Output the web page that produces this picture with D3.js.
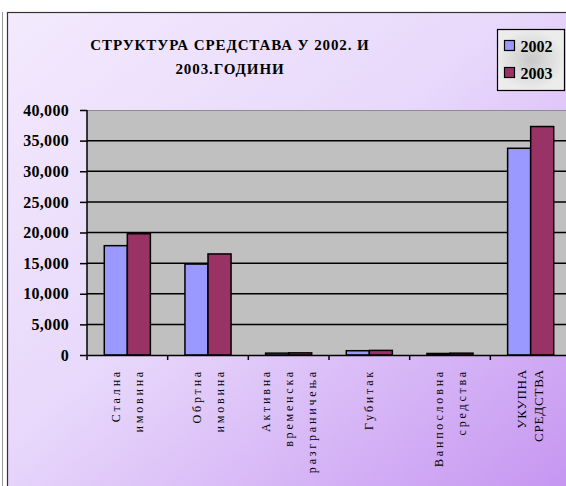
<!DOCTYPE html>
<html>
<head>
<meta charset="utf-8">
<script src="https://cdn.jsdelivr.net/npm/d3@7"></script>
<style>
	body { margin: 0; background: #fff; }
	svg { display: block; }
	.serif { font-family: "Liberation Serif", "DejaVu Serif", serif; }
</style>
</head>
<body>
<div id="chart"></div>
<script>
const categories = [
	['Стална', 'имовина'],
	['Обртна', 'имовина'],
	['Активна', 'временска', 'разграничења'],
	['Губитак'],
	['Ванпословна', 'средства'],
	['УКУПНА', 'СРЕДСТВА']
];
const years = ['2002', '2003'];
const values2002 = [17850, 14850, 300, 700, 250, 33750];
const values2003 = [19800, 16500, 350, 750, 300, 37300];
const yTicks = [0, 5000, 10000, 15000, 20000, 25000, 30000, 35000, 40000];
const titleLines = ['СТРУКТУРА  СРЕДСТАВА У 2002. И', '2003.ГОДИНИ'];

const width = 566, height = 486;
const colors = { '2002': '#9999ff', '2003': '#993366' };

const svg = d3.select('#chart').append('svg')
	.attr('width', width)
	.attr('height', height);

const defs = svg.append('defs');
const bg = defs.append('linearGradient')
	.attr('id', 'bg')
	.attr('x1', '0%').attr('y1', '0%')
	.attr('x2', '100%').attr('y2', '100%');
bg.append('stop').attr('offset', '0%').attr('stop-color', '#f3eafd');
bg.append('stop').attr('offset', '45%').attr('stop-color', '#e8d8fb');
bg.append('stop').attr('offset', '100%').attr('stop-color', '#c594f1');

const lg = defs.append('radialGradient').attr('id', 'lg');
lg.append('stop').attr('offset', '0%').attr('stop-color', '#c8c8c8');
lg.append('stop').attr('offset', '100%').attr('stop-color', '#ececec');

// outer frame
svg.append('line')
	.attr('x1', 2.5).attr('x2', 2.5).attr('y1', 12).attr('y2', height)
	.attr('stroke', '#999');
svg.append('rect')
	.attr('x', 7.5).attr('y', 12.5)
	.attr('width', width).attr('height', height)
	.attr('fill', 'url(#bg)')
	.attr('stroke', '#333').attr('stroke-width', 1.2);

const margin = { top: 110, left: 87, bottom: 131 };
const plotW = 484;
const plotH = height - margin.top - margin.bottom;

const x = d3.scaleBand()
	.domain(d3.range(categories.length))
	.range([0, plotW])
	.paddingInner(0)
	.paddingOuter(0);

// Excel gap width 150%: two bars plus 1.5 bar widths of gap per category
const xInner = d3.scaleBand()
	.domain(years)
	.range([0, x.bandwidth()])
	.paddingOuter(0.75)
	.paddingInner(0);

const y = d3.scaleLinear()
	.domain([0, 40000])
	.range([plotH, 0]);

const g = svg.append('g')
	.attr('transform', `translate(${margin.left},${margin.top})`);

g.append('rect')
	.attr('width', plotW).attr('height', plotH)
	.attr('fill', '#c0c0c0');
g.append('line')
	.attr('x1', 0).attr('x2', plotW).attr('y1', 0.5).attr('y2', 0.5)
	.attr('stroke', '#8c8c8c');

// gridlines
g.selectAll('.grid')
	.data(yTicks.filter(d => d > 0 && d < 40000))
	.enter().append('line')
	.attr('x1', 0).attr('x2', plotW)
	.attr('y1', d => y(d)).attr('y2', d => y(d))
	.attr('stroke', '#000').attr('stroke-width', 1.5);

// bars
const data = categories.map((c, i) => ({ i, v: [values2002[i], values2003[i]] }));
const grp = g.selectAll('.cat')
	.data(data)
	.enter().append('g')
	.attr('transform', d => `translate(${x(d.i)},0)`);

grp.selectAll('rect')
	.data(d => years.map((yr, k) => ({ yr, v: d.v[k] })))
	.enter().append('rect')
	.attr('x', d => xInner(d.yr))
	.attr('width', xInner.bandwidth())
	.attr('y', d => y(d.v))
	.attr('height', d => plotH - y(d.v))
	.attr('fill', d => colors[d.yr])
	.attr('stroke', '#000').attr('stroke-width', 1.5);

// y axis
const yAxis = g.append('g')
	.call(d3.axisLeft(y).tickValues(yTicks).tickSize(7).tickFormat(d3.format(',')));
yAxis.select('.domain').attr('stroke', '#000').attr('stroke-width', 1.5)
	.attr('d', `M0,0V${plotH}`);
yAxis.selectAll('.tick line').attr('stroke', '#000').attr('stroke-width', 1.5);
yAxis.selectAll('.tick text')
	.attr('class', 'serif')
	.attr('x', -18)
	.attr('font-size', 16).attr('font-weight', 'bold')
	.attr('letter-spacing', 0.3).attr('fill', '#000');

// x axis
const xAxis = g.append('g')
	.attr('transform', `translate(0,${plotH})`)
	.call(d3.axisBottom(x).tickSize(0).tickFormat(''));
xAxis.select('.domain').attr('stroke', '#000').attr('stroke-width', 1.5);
g.append('g')
	.attr('transform', `translate(0,${plotH})`)
	.selectAll('line')
	.data(d3.range(categories.length + 1))
	.enter().append('line')
	.attr('x1', d => d * x.step()).attr('x2', d => d * x.step())
	.attr('y1', 0).attr('y2', 5)
	.attr('stroke', '#000').attr('stroke-width', 1.5);

// category labels, rotated
const lab = g.selectAll('.lab')
	.data(categories)
	.enter().append('text')
	.attr('class', 'serif')
	.attr('transform', (d, i) => `translate(${x(i) + x.bandwidth() / 2},${plotH + 14}) rotate(-90)`)
	.attr('text-anchor', 'end')
	.attr('font-size', (d, i) => i === 5 ? 13 : 12)
	.attr('letter-spacing', (d, i) => i === 5 ? 0.8 : 2.8)
	.attr('fill', '#000');
lab.each(function(d, i) {
	const step = i === 5 ? 17 : 23;
	const off = -(d.length - 1) * step / 2;
	d3.select(this).selectAll('tspan')
		.data(d)
		.enter().append('tspan')
		.attr('x', 0)
		.attr('y', (t, k) => off + k * step + 4)
		.text(t => t);
});

// title
svg.append('text')
	.attr('class', 'serif')
	.attr('text-anchor', 'middle')
	.attr('font-size', 15).attr('font-weight', 'bold')
	.attr('letter-spacing', 0.9)
	.selectAll('tspan')
	.data(titleLines)
	.enter().append('tspan')
	.attr('x', 230)
	.attr('y', (d, i) => 50 + i * 24)
	.text(d => d);

// legend
const leg = svg.append('g').attr('transform', 'translate(497.5,29.5)');
leg.append('rect')
	.attr('width', 67).attr('height', 61)
	.attr('fill', 'url(#lg)')
	.attr('stroke', '#000').attr('stroke-width', 1.2);
const item = leg.selectAll('.item')
	.data(years)
	.enter().append('g')
	.attr('transform', (d, i) => `translate(7,${11 + i * 27})`);
item.append('rect')
	.attr('width', 10).attr('height', 10)
	.attr('fill', d => colors[d])
	.attr('stroke', '#000').attr('stroke-width', 1.2);
item.append('text')
	.attr('class', 'serif')
	.attr('x', 16).attr('y', 11)
	.attr('font-size', 16).attr('font-weight', 'bold')
	.text(d => d);
</script>
</body>
</html>
